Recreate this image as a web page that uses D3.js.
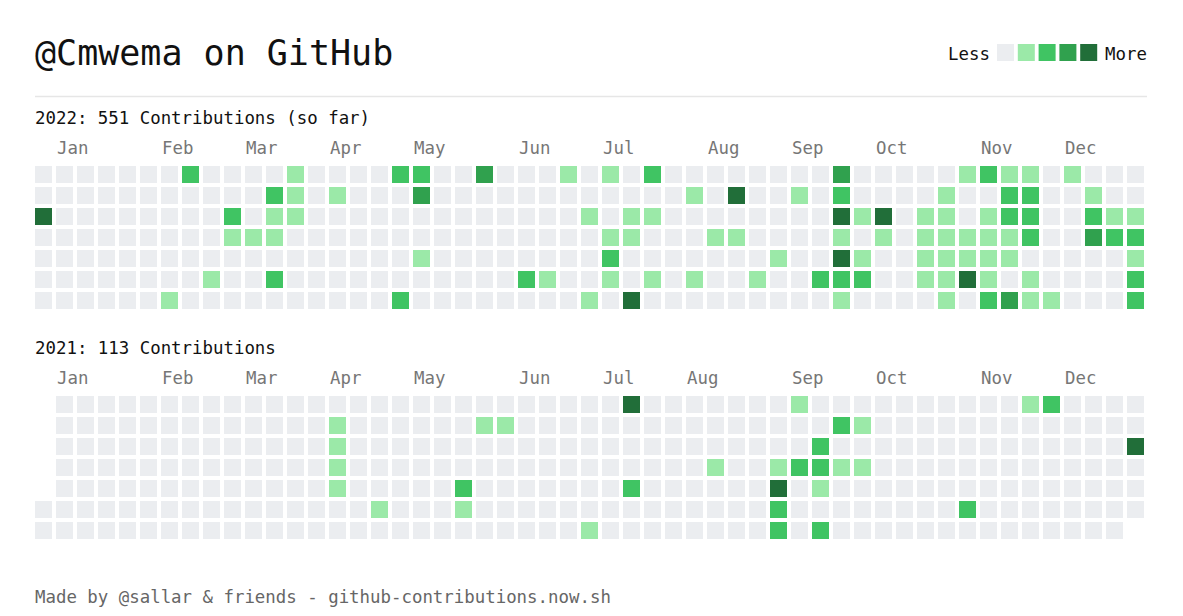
<!DOCTYPE html>
<html>
<head>
<meta charset="utf-8">
<script src="https://cdn.jsdelivr.net/npm/d3@7"></script>
<style>
  body { margin: 0; background: #fff; }
  text { font-family: "DejaVu Sans Mono", "Liberation Mono", monospace; }
</style>
</head>
<body>
<div id="chart"></div>
<script>
// contribution levels per weekday row (Sun..Sat), one char per week column; "." = no day
const rows2022 = [
  "0000000200" + "0010000220" + "0300010102" + "0000000030" + "0000121101" + "000",
  "0000000000" + "0210100030" + "0000000000" + "0104001020" + "0001002200" + "100",
  "4000000002" + "0110000000" + "0000001011" + "0000000041" + "4011012200" + "211",
  "0000000001" + "1100000000" + "0000000110" + "0011000010" + "1011111200" + "322",
  "0000000000" + "0000000010" + "0000000200" + "0000010041" + "0011111000" + "001",
  "0000000010" + "0200000000" + "0002100101" + "0100100222" + "0011410100" + "002",
  "0000001000" + "0000000200" + "0000001040" + "0000000010" + "0001023110" + "002"
];
const rows2021 = [
  ".000000000" + "0000000000" + "0000000040" + "0000001000" + "0000000120" + "000",
  ".000000000" + "0000100000" + "0110000000" + "0000000021" + "0000000000" + "000",
  ".000000000" + "0000100000" + "0000000000" + "0000000200" + "0000000000" + "004",
  ".000000000" + "0000100000" + "0000000000" + "0010012211" + "0000000000" + "000",
  ".000000000" + "0000100000" + "2000000020" + "0000040100" + "0000000000" + "000",
  "0000000000" + "0000001000" + "1000000000" + "0000020000" + "0000200000" + "000",
  "0000000000" + "0000000000" + "0000001000" + "0000020200" + "0000000000" + "00."
];
const months = ["Jan", "Feb", "Mar", "Apr", "May", "Jun", "Jul", "Aug", "Sep", "Oct", "Nov", "Dec"];
const monthWeeks2022 = [1, 6, 10, 14, 18, 23, 27, 32, 36, 40, 45, 49];
const monthWeeks2021 = [1, 6, 10, 14, 18, 23, 27, 31, 36, 40, 45, 49];
const years = [
  { title: "2022: 551 Contributions (so far)", rows: rows2022, monthWeeks: monthWeeks2022 },
  { title: "2021: 113 Contributions", rows: rows2021, monthWeeks: monthWeeks2021 }
];
const palette = ["#ebedf0", "#9be9a8", "#40c463", "#30a14e", "#216e39"];

const [width, height] = [1183, 616];
const cell = 17;
const x = d3.scaleLinear().domain([0, 53]).range([35, 35 + 53 * 21]);
const y = d3.scaleLinear().domain([0, 7]).range([0, 7 * 21]);
const color = d3.scaleOrdinal().domain(d3.range(5)).range(palette);

const svg = d3.select('#chart')
  .append('svg')
  .attr('width', width)
  .attr('height', height);

// header
svg.append('text')
  .attr('x', 35).attr('y', 65)
  .attr('font-size', 35)
  .attr('fill', '#111')
  .text('@Cmwema on GitHub');

svg.append('line')
  .attr('x1', 35).attr('x2', 1147)
  .attr('y1', 96.5).attr('y2', 96.5)
  .attr('stroke', '#e6e6e6')
  .attr('stroke-width', 1.5);

// legend
const legend = svg.append('g').attr('transform', 'translate(0,44)');
legend.append('text')
  .attr('x', 990).attr('y', 16).attr('text-anchor', 'end')
  .attr('font-size', 17.4).attr('fill', '#111').text('Less');
legend.selectAll('rect')
  .data(d3.range(5))
  .enter().append('rect')
  .attr('x', d => 997 + d * 20.8)
  .attr('width', cell).attr('height', cell)
  .attr('fill', d => color(d));
legend.append('text')
  .attr('x', 1105).attr('y', 16)
  .attr('font-size', 17.4).attr('fill', '#111').text('More');

// year blocks
const blockTops = [166, 396];
years.forEach((yr, k) => {
  const top = blockTops[k];
  const g = svg.append('g');

  g.append('text')
    .attr('x', 35).attr('y', top - 42)
    .attr('font-size', 17.4).attr('fill', '#111')
    .text(yr.title);

  g.selectAll('text.month')
    .data(yr.monthWeeks)
    .enter().append('text')
    .attr('class', 'month')
    .attr('x', d => x(d) + 1)
    .attr('y', top - 12)
    .attr('font-size', 17.4)
    .attr('fill', '#767676')
    .text((d, i) => months[i]);

  const cells = [];
  yr.rows.forEach((row, r) => {
    row.split('').forEach((c, w) => {
      if (c !== '.') cells.push({ week: w, day: r, level: +c });
    });
  });

  g.selectAll('rect')
    .data(cells)
    .enter().append('rect')
    .attr('x', d => x(d.week))
    .attr('y', d => top + y(d.day))
    .attr('width', cell).attr('height', cell)
    .attr('fill', d => color(d.level));
});

// footer
svg.append('text')
  .attr('x', 35).attr('y', 603)
  .attr('font-size', 17.4).attr('fill', '#666')
  .text('Made by @sallar & friends - github-contributions.now.sh');
</script>
</body>
</html>
